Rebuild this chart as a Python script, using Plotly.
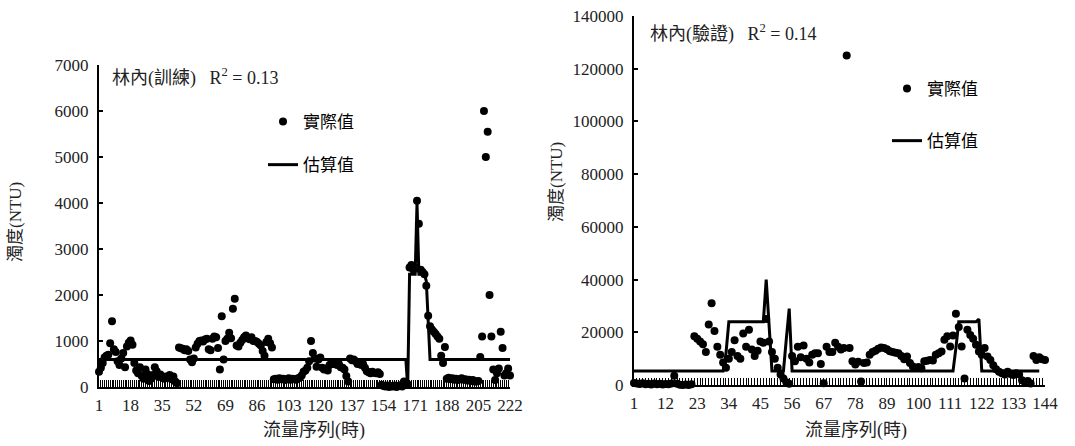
import plotly.graph_objects as go

# ---------------- data: left panel (林內 訓練) ----------------
train_idx = list(range(1, 223))
train_actual = [
    330, 420, 520, 640, 680, 700, 950, 1430, 820, 760,
    560, 480, 620, 740, 430, 880, 960, 1010, 920, 520,
    360, 300, 430, 240, 180, 380, 280, 130, 180, 260,
    430, 340, 220, 270, 220, 180, 230, 210, 260, 170,
    230, 120, 80, 860, 840, 830, 800, 820, 780, 600,
    540, 620, 860, 940, 1000, 1010, 990, 1030, 1050, 820,
    800, 1050, 1100, 1080, 850, 380, 1540, 600, 1000, 1050,
    1180, 1060, 1700, 1920, 900, 880, 960, 1020, 1080, 1120,
    1060, 1040, 1080, 1000, 1000, 980, 940, 900, 780, 680,
    980, 1050, 950, 860, 170, 180, 160, 190, 170, 180,
    150, 170, 190, 160, 180, 170, 160, 190, 200, 250,
    330, 360, 420, 560, 1000, 740, 620, 440, 600, 640,
    420, 380, 400, 360, 480, 520, 500, 540, 480, 500,
    430, 420, 380, 240, 120, 620, 580, 600, 560, 500,
    520, 480, 500, 420, 340, 320, 300, 330, 310, 300,
    320, 280, 50, 20, 10, 30, 0, 20, 10, 30,
    0, 20, 40, 10, 120, 100, 60, 2600, 2650, 2550,
    2600, 4050, 3550, 2550, 2500, 2450, 2200, 1550, 1320, 1250,
    1200, 1150, 1100, 1050, 680, 520, 870, 180, 200, 170,
    190, 160, 180, 150, 170, 190, 160, 170, 140, 160,
    130, 150, 120, 120, 130, 650, 1100, 6000, 5000, 5550,
    2000, 1100, 380, 150, 300, 400, 1200, 850, 250, 300,
    400, 250,
]
train_est = (
    [600] * 166
    + [0, 2450, 2450, 2450, 2450, 4000, 2450, 2450, 2450, 2450, 2300, 1450]
    + [600] * 44
)
train_ticks = [1, 18, 35, 52, 69, 86, 103, 120, 137, 154, 171, 188, 205, 222]

# ---------------- data: right panel (林內 驗證) ----------------
valid_idx = list(range(1, 145))
valid_actual = [
    800, 600, 400, 700, 300, 500, 200, 600, 300, 500,
    200, 400, 300, 600, 3500, 500, 100, 0, 200, 0,
    300, 18500, 17500, 16500, 15500, 12500, 23000, 31000, 20500, 14500,
    11500, 8500, 6500, 10000, 12500, 17000, 11000, 10000, 19500, 14500,
    21000, 13500, 11000, 13000, 16500, 16000, 25000, 16500, 12500, 10000,
    6500, 4000, 2500, 1000, 500, 11000, 9000, 14500, 10500, 15000,
    10000, 8500, 11500, 12000, 12000, 8000, 700, 14500, 12500, 12500,
    16000, 14500, 13500, 14000, 125000, 14000, 9000, 7800, 8800, 1300,
    8300, 8500, 11500, 12500, 13000, 13800, 14200, 14000, 13600, 12800,
    12500, 12200, 12000, 11000, 9800, 10800, 8300, 7000, 6500, 6800,
    6400, 9000, 9200, 9500, 9300, 11500, 12000, 12700, 17200, 18500,
    14600, 18800, 27000, 22000, 14600, 2500, 21000, 19000, 17500, 15300,
    12700, 11500, 14000, 10800, 9500, 7500, 6000, 5000, 4500, 4000,
    5000, 4200, 3800, 4500, 4000, 1800, 1000, 1500, 600, 11000,
    9500, 10500, 9800, 9500,
]
valid_est = (
    [5350] * 32
    + [12000] + [24000] * 13 + [40000, 24000]
    + [5350] * 5 + [17500, 29000]
    + [5350] * 57
    + [14000] + [24000] * 7 + [25000]
    + [5350] * 21
)
valid_ticks = [1, 12, 23, 34, 45, 56, 67, 78, 89, 100, 111, 122, 133, 144]

# ---------------- figure ----------------
W, H = 1075, 446
FONT = "Liberation Serif, Noto Sans CJK TC, serif"
CJK = "Noto Sans CJK TC, Liberation Serif, serif"

def px(x):
    return x / W

def py(y):
    return 1 - y / H

fig = go.Figure()

mk = dict(symbol="circle", size=8, color="black")
ln = dict(color="black", width=3)

fig.add_trace(go.Scatter(x=train_idx, y=train_actual, mode="markers", marker=mk,
                         name="實際值", xaxis="x", yaxis="y", cliponaxis=False,
                         legend="legend", legendgroup="a"))
fig.add_trace(go.Scatter(x=train_idx, y=train_est, mode="lines", line=ln,
                         name="估算值", xaxis="x", yaxis="y", cliponaxis=False,
                         legend="legend", legendgroup="b"))
fig.add_trace(go.Scatter(x=valid_idx, y=valid_actual, mode="markers", marker=mk,
                         name="實際值", xaxis="x2", yaxis="y2", cliponaxis=False,
                         legend="legend2", legendgroup="c"))
fig.add_trace(go.Scatter(x=valid_idx, y=valid_est, mode="lines", line=ln,
                         name="估算值", xaxis="x2", yaxis="y2", cliponaxis=False,
                         legend="legend2", legendgroup="d"))

xcommon = dict(
    showline=True, linecolor="black", linewidth=2, showgrid=False, zeroline=False,
    ticks="inside", ticklen=7, tickwidth=1, tickcolor="black",
    tickfont=dict(family=FONT, size=17, color="#222"),
    minor=dict(ticks="inside", ticklen=7, tickwidth=1, tickcolor="black",
               tickmode="linear", tick0=1, dtick=1, showgrid=False),
    tickmode="array", ticklabelstandoff=2, automargin=False,
)
ycommon = dict(
    showline=True, linecolor="black", linewidth=2, showgrid=False, zeroline=False,
    ticks="inside", ticklen=4, tickwidth=1.5, tickcolor="black",
    tickfont=dict(family=FONT, size=17, color="#222"), tickformat="d",
    ticklabelstandoff=5, automargin=False,
)

def legend_style(gap):
    return dict(
        font=dict(family=CJK, size=17, color="black"),
        bgcolor="rgba(0,0,0,0)", borderwidth=0, traceorder="grouped",
        tracegroupgap=gap, xanchor="left", yanchor="top", itemwidth=30,
    )

fig.update_layout(
    width=W, height=H,
    margin=dict(l=0, r=0, t=0, b=0, pad=0, autoexpand=False),
    paper_bgcolor="white", plot_bgcolor="white",
    showlegend=True,
    xaxis=dict(domain=[px(99), px(510)], range=[1, 222], anchor="y",
               tickvals=train_ticks, ticktext=[str(v) for v in train_ticks], **xcommon),
    yaxis=dict(domain=[py(387), py(65)], range=[0, 7000], anchor="x", dtick=1000, **ycommon),
    xaxis2=dict(domain=[px(634), px(1045)], range=[1, 144], anchor="y2",
                tickvals=valid_ticks, ticktext=[str(v) for v in valid_ticks], **xcommon),
    yaxis2=dict(domain=[py(385), py(16)], range=[0, 140000], anchor="x2", dtick=20000, **ycommon),
    legend=dict(x=px(263), y=py(104), **legend_style(18)),
    legend2=dict(x=px(887), y=py(71), **legend_style(27)),
)

ann = [
    dict(x=px(110), y=py(77), text="林內(訓練)\u00a0\u00a0\u00a0R<sup>2</sup> = 0.13", xanchor="left", yanchor="middle", size=18),
    dict(x=px(648), y=py(33), text="林內(驗證)\u00a0\u00a0\u00a0R<sup>2</sup> = 0.14", xanchor="left", yanchor="middle", size=18),
    dict(x=px(314), y=py(430), text="流量序列(時)", xanchor="center", yanchor="middle", size=18),
    dict(x=px(856), y=py(430), text="流量序列(時)", xanchor="center", yanchor="middle", size=18),
    dict(x=px(15), y=py(222), text="濁度(NTU)", textangle=-90, xanchor="center", yanchor="middle", size=17),
    dict(x=px(556), y=py(182), text="濁度(NTU)", textangle=-90, xanchor="center", yanchor="middle", size=17),
]
for a in ann:
    s = a.pop("size")
    a.update(xref="paper", yref="paper", showarrow=False,
             font=dict(family=FONT, size=s, color="#222"))
    fig.add_annotation(**a)

fig.write_html("out.html")
